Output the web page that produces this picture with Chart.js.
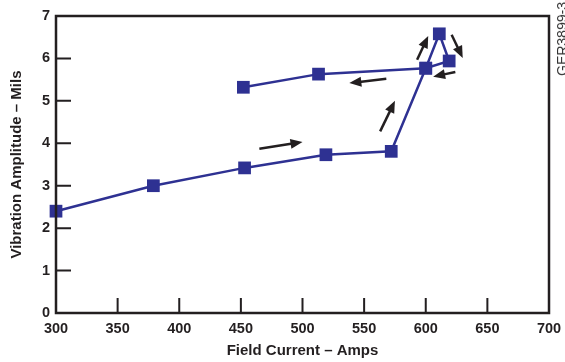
<!DOCTYPE html>
<html>
<head>
<meta charset="utf-8">
<script src="https://cdn.jsdelivr.net/npm/chart.js@4.4.1/dist/chart.umd.min.js"></script>
<style>
  html, body { margin: 0; padding: 0; background: #fff; }
  #wrap { position: relative; width: 565px; height: 362px; overflow: hidden; }
  #tag {
    position: absolute; left: 554px; top: 2px;
    font: 14px "Liberation Sans", Arial, sans-serif; color: #333;
    writing-mode: vertical-rl; transform: rotate(180deg);
    transform-origin: center;
  }
</style>
</head>
<body>
<div id="wrap">
  <canvas id="chart" width="565" height="362"></canvas>
  <div id="tag">GER3899-3</div>
</div>
<script>
// field current (amps) and vibration (mils), in the order the test ran
const amps = [300, 379, 453, 519, 572, 600, 611, 619, 600, 513, 452];
const mils = [2.40, 3.00, 3.42, 3.73, 3.81, 5.77, 6.58, 5.94, 5.77, 5.63, 5.32];

const xTicks = [300, 350, 400, 450, 500, 550, 600, 650, 700];
const yTicks = [0, 1, 2, 3, 4, 5, 6, 7];

// direction arrows: [fromX, fromY, toX, toY] in data units
const arrows = [
  [465, 3.87, 500, 4.03],
  [563, 4.28, 575, 5.00],
  [593, 5.97, 602, 6.53],
  [621, 6.56, 630, 6.01],
  [624, 5.68, 606, 5.57],
  [568, 5.52, 538, 5.42]
];

const ink = "#231f20";
const blue = "#2e3192";
const font = { family: "'Liberation Sans', Arial, sans-serif", size: 14.5, weight: "bold" };
const titleFont = { family: "'Liberation Sans', Arial, sans-serif", size: 15, weight: "bold" };

const frame = {
  id: "frame",
  afterDatasetsDraw(chart) {
    const { ctx, chartArea: a, scales: { x, y } } = chart;
    ctx.save();
    ctx.strokeStyle = ink;
    ctx.lineWidth = 2.5;
    ctx.strokeRect(a.left, a.top, a.right - a.left, a.bottom - a.top);
    ctx.lineWidth = 2;
    ctx.beginPath();
    xTicks.slice(1, -1).forEach(v => {
      const px = x.getPixelForValue(v);
      ctx.moveTo(px, a.bottom);
      ctx.lineTo(px, a.bottom - 15);
    });
    yTicks.slice(1, -1).forEach(v => {
      const py = y.getPixelForValue(v);
      ctx.moveTo(a.left, py);
      ctx.lineTo(a.left + 15, py);
    });
    ctx.stroke();

    ctx.fillStyle = ink;
    ctx.strokeStyle = ink;
    ctx.lineWidth = 2.5;
    arrows.forEach(([x0, y0, x1, y1]) => {
      const ax = x.getPixelForValue(x0), ay = y.getPixelForValue(y0);
      const bx = x.getPixelForValue(x1), by = y.getPixelForValue(y1);
      const ang = Math.atan2(by - ay, bx - ax);
      const hl = 12, hw = 5;
      const cx = bx - hl * Math.cos(ang), cy = by - hl * Math.sin(ang);
      ctx.beginPath();
      ctx.moveTo(ax, ay);
      ctx.lineTo(cx + 2 * Math.cos(ang), cy + 2 * Math.sin(ang));
      ctx.stroke();
      ctx.beginPath();
      ctx.moveTo(bx, by);
      ctx.lineTo(cx + hw * Math.sin(ang), cy - hw * Math.cos(ang));
      ctx.lineTo(cx - hw * Math.sin(ang), cy + hw * Math.cos(ang));
      ctx.closePath();
      ctx.fill();
    });
    ctx.restore();
  }
};

new Chart(document.getElementById("chart"), {
  type: "line",
  data: {
    datasets: [{
      data: amps.map((a, i) => ({ x: a, y: mils[i] })),
      borderColor: blue,
      borderWidth: 2.5,
      backgroundColor: blue,
      pointStyle: "rect",
      pointRadius: 9,
      pointBorderWidth: 0,
      pointBackgroundColor: blue,
      tension: 0,
      clip: false
    }]
  },
  options: {
    responsive: false,
    animation: false,
    layout: { padding: { top: 16, right: 16, left: 0, bottom: 0 } },
    plugins: { legend: { display: false }, tooltip: { enabled: false } },
    scales: {
      x: {
        type: "linear",
        min: 300, max: 700,
        afterBuildTicks: s => { s.ticks = xTicks.map(v => ({ value: v })); },
        afterFit: s => { s.height = 49; s.paddingLeft = 0; s.paddingRight = 0; },
        grid: { display: false, drawTicks: false },
        border: { display: false },
        ticks: { color: ink, font, padding: 7, maxRotation: 0 },
        title: { display: true, text: "Field Current – Amps", color: ink, font: titleFont, padding: { top: 0, bottom: 2 } }
      },
      y: {
        min: 0, max: 7,
        afterBuildTicks: s => { s.ticks = yTicks.map(v => ({ value: v })); },
        afterFit: s => { s.width = 56; },
        grid: { display: false, drawTicks: false },
        border: { display: false },
        ticks: { color: ink, font, padding: 6 },
        title: { display: true, text: "Vibration Amplitude – Mils", color: ink, font: titleFont, padding: { top: 8, bottom: 0 } }
      }
    }
  },
  plugins: [frame]
});
</script>
</body>
</html>
